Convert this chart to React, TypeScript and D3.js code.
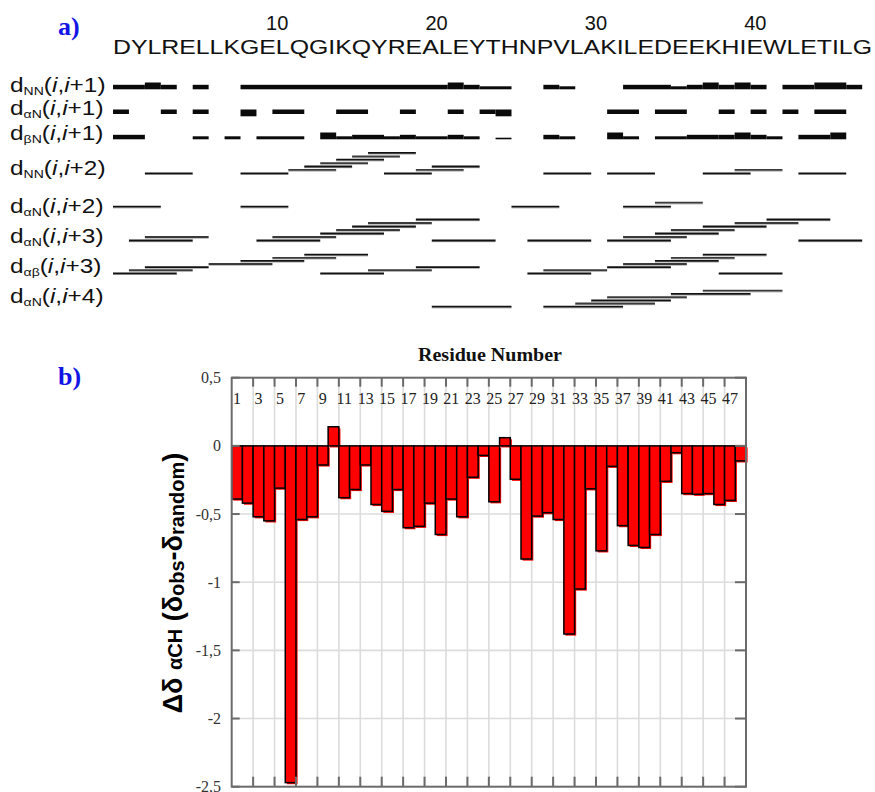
import React from 'react';
import * as d3 from 'd3';

// ---------- panel a) data ----------
const sequence = "DYLRELLKGELQGIKQYREALEYTHNPVLAKILEDEEKHIEWLETILG";
const sequenceNumbers = [10, 20, 30, 40];

// sequential NOE blocks: [from, to, strength] in residue-boundary units
const dNN_i1: [number, number, string][] = [
  [0, 2, 'm'], [2, 3, 's'], [3, 4, 'm'], [5, 6, 'm'], [8, 21, 'm'], [21, 22, 's'], [22, 23, 'm'], [23, 25, 'w'],
  [27, 28, 'm'], [28, 29, 'w'], [32, 35, 'm'], [35, 36, 'w'], [36, 37, 'm'], [37, 38, 's'], [38, 39, 'm'],
  [39, 40, 's'], [40, 41, 'm'], [42, 44, 'm'], [44, 46, 's'], [46, 47, 'm'],
];
const dAN_i1: [number, number, string][] = [
  [0, 1, 'm'], [3, 4, 'm'], [5, 6, 'm'], [8, 9, 's'], [10, 12, 'm'], [14, 16, 'm'], [18, 19, 'm'], [21, 22, 'm'],
  [23, 24, 'm'], [24, 25, 's'], [31, 33, 'm'], [34, 36, 'm'], [38, 39, 'm'], [40, 41, 'm'], [42, 43, 'm'], [44, 46, 'm'],
];
const dBN_i1: [number, number, string][] = [
  [0, 2, 'm'], [5, 6, 'w'], [7, 8, 'w'], [9, 12, 'w'], [13, 14, 's'], [14, 15, 'w'], [15, 17, 'm'], [17, 18, 'w'],
  [18, 19, 'm'], [19, 21, 'w'], [21, 22, 'm'], [22, 23, 'w'], [24, 25, 'vw'], [27, 28, 'm'], [28, 29, 'w'],
  [31, 32, 's'], [32, 33, 'w'], [34, 36, 'w'], [36, 38, 'm'], [38, 39, 'm'], [39, 40, 's'], [40, 41, 'm'],
  [41, 42, 'w'], [43, 45, 'm'], [45, 46, 's'],
];

// medium-range NOEs: [first residue i, stacking level]
const dNN_i2: [number, number][] = [
  [3, 0], [9, 0], [12, 1], [13, 2], [14, 3], [15, 4], [16, 5], [17, 6], [18, 0], [20, 1], [21, 2],
  [28, 0], [32, 0], [38, 0], [40, 1], [44, 0],
];
const dAN_i2: [number, number][] = [[1, 0], [9, 0], [26, 0], [33, 0], [35, 1]];
const dAN_i3: [number, number][] = [
  [2, 0], [3, 1], [10, 0], [11, 1], [14, 2], [15, 3], [16, 4], [17, 5], [20, 6], [21, 0], [27, 0],
  [32, 0], [33, 1], [35, 2], [36, 3], [38, 4], [40, 5], [42, 6], [44, 0],
];
const dAB_i3: [number, number][] = [
  [1, 0], [2, 1], [3, 2], [7, 3], [9, 4], [11, 5], [13, 6], [14, 0], [17, 1], [20, 2], [27, 0], [28, 1],
  [32, 2], [33, 3], [35, 4], [36, 5], [38, 6], [39, 0],
];
const dAN_i4: [number, number][] = [[21, 0], [28, 0], [30, 1], [31, 2], [32, 3], [36, 4], [38, 5]];

// ---------- panel b) data ----------
const residueNumbers = d3.range(1, 49);
const deltaShift = [
  -0.39, -0.42, -0.52, -0.55, -0.31, -2.47, -0.54, -0.52, -0.14, 0.14,
  -0.38, -0.32, -0.14, -0.43, -0.48, -0.32, -0.60, -0.59, -0.42, -0.65,
  -0.39, -0.52, -0.23, -0.07, -0.41, 0.06, -0.245, -0.83, -0.515, -0.49,
  -0.54, -1.38, -1.05, -0.315, -0.77, -0.15, -0.585, -0.73, -0.745, -0.65,
  -0.26, -0.05, -0.35, -0.355, -0.35, -0.43, -0.40, -0.11,
];
const yTickValues = [0.5, 0, -0.5, -1, -1.5, -2, -2.5];
const yTickLabels = ['0,5', '0', '-0,5', '-1', '-1,5', '-2', '-2,5'];

const SANS = 'Liberation Sans, Arial, sans-serif';
const SERIF = 'Liberation Serif, Times New Roman, serif';

export default function App() {
  const W = 875, H = 792;

  // top panel scale (residue boundaries)
  const xs = d3.scaleLinear().domain([0, 48]).range([113, 113 + 48 * 15.94]);
  const thick: Record<string, number> = { vw: 1.6, w: 3, m: 4.5, s: 6.8 };

  const seqRows = [
    { data: dNN_i1, y: 89.3, align: 'bottom' },
    { data: dAN_i1, y: 109.5, align: 'top' },
    { data: dBN_i1, y: 139.3, align: 'bottom' },
  ];
  const medRows = [
    { data: dNN_i2, span: 2, y: 173.3, step: 3.4 },
    { data: dAN_i2, span: 2, y: 206.7, step: 4 },
    { data: dAN_i3, span: 3, y: 240.5, step: 3.5 },
    { data: dAB_i3, span: 3, y: 273.3, step: 3.1 },
    { data: dAN_i4, span: 4, y: 306.7, step: 3.2 },
  ];
  const rowLabels = [
    { sub: 'NN', k: 1, y: 91.7 },
    { sub: 'αN', k: 1, y: 115 },
    { sub: 'βN', k: 1, y: 140 },
    { sub: 'NN', k: 2, y: 175 },
    { sub: 'αN', k: 2, y: 213 },
    { sub: 'αN', k: 3, y: 243 },
    { sub: 'αβ', k: 3, y: 273 },
    { sub: 'αN', k: 4, y: 303 },
  ];

  // bottom panel scales
  const xb = d3.scaleBand<number>().domain(residueNumbers).range([231.7, 746]).padding(0);
  const bw = xb.bandwidth();
  const yb = d3.scaleLinear().domain([-2.5, 0.5]).range([786.7, 377.7]);
  const left = 231.7, right = 746, top = yb(0.5), bottom = yb(-2.5);
  const gridRes = residueNumbers.filter((r) => r % 2 === 1 && r >= 3);
  const labelRes = residueNumbers.filter((r) => r % 2 === 1);
  const axisColor = '#6b6b6b';

  return (
    <svg width={W} height={H} style={{ position: 'absolute', left: 0, top: 0, background: '#fff' }}>
      <rect x={0} y={0} width={W} height={H} fill="#fff" />
      {/* ---------- panel a ---------- */}
      <text x={58} y={35} fill="#1414e6" fontFamily={SERIF} fontWeight="bold" fontSize={26}>a)</text>
      {sequenceNumbers.map((n) => (
        <text key={n} x={xs(n + 0.3)} y={30} textAnchor="middle" fontFamily={SANS} fontSize={20} fill="#111">{n}</text>
      ))}
      <text x={113} y={54} fontFamily={SANS} fontSize={19.5} fill="#111" textLength={759} lengthAdjust="spacingAndGlyphs">{sequence}</text>

      {rowLabels.map((l, i) => (
        <g key={i} transform={`translate(10,${l.y}) scale(1.22,1)`}>
          <text fontFamily={SANS} fontSize={20} fill="#111">
            d<tspan fontSize={11.5} dy={3}>{l.sub}</tspan>
            <tspan dy={-3}>(</tspan><tspan fontStyle="italic">i</tspan>,<tspan fontStyle="italic">i</tspan>+{l.k})
          </text>
        </g>
      ))}

      {seqRows.map((row, ri) => (
        <g key={ri}>
          {row.data.map(([a, b, s], i) => {
            const h = thick[s];
            const y = row.align === 'bottom' ? row.y - h : row.y;
            return <rect key={i} x={xs(a)} y={y} width={xs(b) - xs(a)} height={h} fill="#0a0a0a" />;
          })}
        </g>
      ))}

      {medRows.map((row, ri) => (
        <g key={ri}>
          {row.data.map(([res, lvl], i) => {
            const y = row.y - lvl * row.step;
            const x1 = xs(res - 1), x2 = xs(res + row.span);
            return (
              <g key={i}>
                <line x1={x1} x2={x2} y1={y + 1.2} y2={y + 1.2} stroke="#aaa" strokeWidth={1} />
                <line x1={x1} x2={x2} y1={y} y2={y} stroke={lvl % 2 === 1 ? '#3a3a3a' : '#111'} strokeWidth={1.8} />
              </g>
            );
          })}
        </g>
      ))}

      {/* ---------- panel b ---------- */}
      <text x={58} y={385} fill="#1414e6" fontFamily={SERIF} fontWeight="bold" fontSize={26}>b)</text>
      <text x={418} y={361} fontFamily={SERIF} fontWeight="bold" fontSize={18} fill="#111" textLength={144} lengthAdjust="spacingAndGlyphs">Residue Number</text>

      {/* grid */}
      {gridRes.map((r) => (
        <line key={'gv' + r} x1={xb(r)!} x2={xb(r)!} y1={top} y2={bottom} stroke="#dcdcdc" strokeWidth={1.6} />
      ))}
      {yTickValues.filter((v) => v < 0 && v > -2.5).map((v) => (
        <line key={'gh' + v} x1={left} x2={right} y1={yb(v)} y2={yb(v)} stroke="#dcdcdc" strokeWidth={1.6} />
      ))}

      {/* residue labels */}
      {labelRes.map((r) => (
        <text key={'rl' + r} x={xb(r)! + bw / 2} y={404} textAnchor="middle" fontFamily={SERIF} fontSize={16} fill="#222">{r}</text>
      ))}

      {/* bars */}
      {residueNumbers.map((r, i) => {
        const v = deltaShift[i];
        const y0 = yb(Math.max(0, v)), y1 = yb(Math.min(0, v));
        return (
          <g key={'b' + r}>
            <rect x={xb(r)! + 1.6} y={y0 + 1.6} width={bw} height={y1 - y0} fill="#ff0000" />
            <rect x={xb(r)!} y={y0} width={bw} height={y1 - y0} fill="#ff0000" stroke="#000" strokeWidth={1.5} />
          </g>
        );
      })}

      {/* frame */}
      <rect x={left} y={top} width={right - left} height={bottom - top} fill="none" stroke={axisColor} strokeWidth={2} />
      {gridRes.map((r) => (
        <g key={'tk' + r}>
          <line x1={xb(r)!} x2={xb(r)!} y1={top} y2={top + 9} stroke={axisColor} strokeWidth={2} />
          <line x1={xb(r)!} x2={xb(r)!} y1={bottom} y2={bottom - 10} stroke={axisColor} strokeWidth={2} />
        </g>
      ))}
      {yTickValues.map((v, i) => (
        <g key={'yt' + v}>
          <line x1={left} x2={left + 8} y1={yb(v)} y2={yb(v)} stroke={axisColor} strokeWidth={2} />
          <line x1={right} x2={right - 11} y1={yb(v)} y2={yb(v)} stroke={axisColor} strokeWidth={2} />
          <text x={221} y={yb(v)} dy="0.35em" textAnchor="end" fontFamily={SERIF} fontSize={16} fill="#333">{yTickLabels[i]}</text>
        </g>
      ))}

      {/* y axis title */}
      <text transform="translate(182,583) rotate(-90)" textAnchor="middle" fontFamily={SANS} fontWeight="bold" fill="#000" fontSize={27}>
        Δδ <tspan fontSize={20} dy={0}>αCH</tspan> (δ<tspan fontSize={20} dy={1.5}>obs</tspan><tspan dy={-1.5}>-δ</tspan><tspan fontSize={20} dy={1.5}>random</tspan><tspan dy={-1.5}>)</tspan>
      </text>
    </svg>
  );
}
